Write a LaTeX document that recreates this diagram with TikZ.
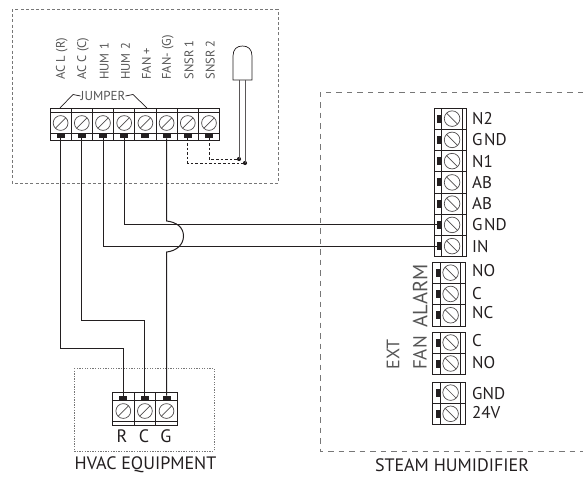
\documentclass[tikz,border=0pt]{standalone}
\usepackage{fontspec}
\usetikzlibrary{calc}
\setmainfont{PT Sans}
\definecolor{ink}{HTML}{231F20}
\definecolor{soft}{HTML}{555555}
\definecolor{boxgray}{HTML}{777777}
\tikzset{
  blockline/.style={draw=ink,line width=0.8pt},
  screw/.style={draw=ink!80,line width=0.7pt},
  tabmark/.style={fill=ink,draw=none,inner sep=0pt,minimum width=#1},
  wire/.style={draw=ink,line width=1pt},
  sensorwire/.style={draw=ink!75,line width=0.9pt},
  dashwire/.style={draw=ink,line width=0.8pt,dash pattern=on 2.6pt off 2pt},
  sensordot/.style={circle,fill=ink,inner sep=0pt,minimum size=4.2pt},
  pinlabel/.style={anchor=west,inner sep=0pt,font=\fontsize{17}{18}\selectfont,text=ink},
  uplabel/.style={anchor=west,rotate=90,inner sep=0pt,font=\fontsize{12.5}{13}\selectfont,text=soft},
  sidelabel/.style={rotate=90,inner sep=0pt,font=\fontsize{#1}{20}\selectfont,text=soft},
  caption/.style={inner sep=0pt,font=\fontsize{18}{19}\selectfont,text=ink},
}
\newcommand{\hblockdown}[5]{% x0, y0, cell, count, name
  \pgfmathsetmacro{\xend}{#1+#3*#4}
  \draw[blockline] (#1,#2) rectangle (\xend,#2+32);
  \draw[blockline] (#1,#2+3.7) -- (\xend,#2+3.7) (#1,#2+25.3) -- (\xend,#2+25.3);
  \foreach \i in {1,...,#4}{
    \pgfmathsetmacro{\cx}{#1+#3*(\i-0.5)}
    \draw[blockline] (#1+#3*\i-#3,#2) -- (#1+#3*\i-#3,#2+32);
    \draw[screw] (\cx,#2+14.5) circle (7.4);
    \draw[screw] (\cx-5.2,#2+19.7) -- (\cx+5.2,#2+9.3);
    \node[tabmark=8pt,minimum height=3.8pt] (#5\i) at (\cx,#2+27.8) {};
  }
}
\newcommand{\hblockup}[5]{% x0, y0, cell, count, name
  \pgfmathsetmacro{\xend}{#1+#3*#4}
  \draw[blockline] (#1,#2) rectangle (\xend,#2+33);
  \draw[blockline] (#1,#2+7.5) -- (\xend,#2+7.5) (#1,#2+28.5) -- (\xend,#2+28.5);
  \foreach \i in {1,...,#4}{
    \pgfmathsetmacro{\cx}{#1+#3*(\i-0.5)}
    \draw[blockline] (#1+#3*\i-#3,#2) -- (#1+#3*\i-#3,#2+33);
    \draw[screw] (\cx,#2+18.5) circle (7.4);
    \draw[screw] (\cx-5.2,#2+23.7) -- (\cx+5.2,#2+13.3);
    \node[tabmark=8pt,minimum height=3.8pt] (#5\i) at (\cx,#2+5.3) {};
  }
}
\newcommand{\vblock}[5]{% x0, y0, cell, count, name
  \pgfmathsetmacro{\yend}{#2+#3*#4}
  \draw[blockline] (#1,#2) rectangle (#1+32.5,\yend);
  \draw[blockline] (#1+7.5,#2) -- (#1+7.5,\yend) (#1+28,#2) -- (#1+28,\yend);
  \foreach \i in {1,...,#4}{
    \pgfmathsetmacro{\cy}{#2+#3*(\i-0.5)}
    \draw[blockline] (#1,#2+#3*\i-#3) -- (#1+32.5,#2+#3*\i-#3);
    \draw[screw] (#1+17.8,\cy) circle (7.8);
    \draw[screw] (#1+12.3,\cy-5.5) -- (#1+23.3,\cy+5.5);
    \node[tabmark=3.8pt,minimum height=8pt] (#5\i) at (#1+5,\cy) {};
  }
}
\begin{document}
\begin{tikzpicture}[x=1pt,y=-1pt]
\useasboundingbox (0,0) rectangle (583,477);
% enclosures
\draw[boxgray,line width=0.7pt,dash pattern=on 3pt off 2.2pt] (12,9) rectangle (278,183);
\draw[boxgray,line width=0.7pt,dash pattern=on 5.5pt off 5pt] (583,92) -- (320,92) -- (320,451) -- (583,451);
\draw[boxgray,line width=0.7pt,dash pattern=on 1.3pt off 1.3pt] (74,368) rectangle (214,451);
% blocks
\hblockdown{50}{108.5}{21.2}{8}{a}
\hblockup{112.5}{392.5}{21.6}{3}{c}
\vblock{434.3}{108}{21.25}{7}{r}
\vblock{432.8}{262}{21.3}{3}{p}
\vblock{432.8}{332}{21}{2}{q}
\vblock{432.8}{382}{21.2}{2}{s}
% top labels
\foreach \n/\t in {1/AC L (R),2/AC C (C),3/HUM 1,4/HUM 2,5/FAN +,6/FAN- (G),7/SNSR 1,8/SNSR 2}
  \node[uplabel] (u\n) at ($(a\n.center)+(1.2,-56.5)$) {\t};
% jumper
\node[inner sep=0pt,font=\fontsize{13}{14}\selectfont,text=soft] (jmp) at (103,96) {JUMPER};
\coordinate (jl) at (60,108);
\coordinate (jr) at (147,108);
\draw[ink,line width=0.7pt] (jl) -- (73,94.5) -- (jmp.west);
\draw[ink,line width=0.7pt] (jr) -- (133,94.5) -- (jmp.east);
% sensor
\coordinate (sensorL) at (239,80);
\coordinate (sensorR) at (245,80);
\draw[ink,line width=0.7pt] (233,80) -- (233,56) .. controls (233,49) and (237,46) .. (242.5,46) .. controls (248,46) and (252,49) .. (252,56) -- (252,80) -- cycle;
\node[sensordot] (d1) at (239,159) {};
\node[sensordot] (d2) at (245,163) {};
\draw[sensorwire] (sensorL) -- (d1.center);
\draw[sensorwire] (sensorR) -- (d2.center);
\draw[dashwire] (a7.south) |- (d2.center);
\draw[dashwire] (a8.south) |- (d1.center);
% wires
\coordinate (bendA) at (61,348);
\coordinate (bendB) at (82,320);
\coordinate (humpA) at (166.6,221);
\coordinate (humpB) at (166.6,252);
\draw[wire] (a1.south) -- (a1.south |- bendA) -| (c1.north);
\draw[wire] (a2.south) -- (a2.south |- bendB) -| (c2.north);
\draw[wire] (a3.south) |- (r7.west);
\draw[wire] (a4.south) |- (r6.west);
\draw[wire] (a6.south) -- (humpA) .. controls (176,222) and (183.5,227) .. (183.5,236) .. controls (183.5,245) and (176,251) .. (humpB) -- (c3.north);
% right labels
\foreach \n/\t in {1/N2,2/G\kern1.5pt ND,3/N1,4/AB,5/AB,6/G\kern1.5pt ND,7/IN}
  \node[pinlabel] (rl\n) at (472,{108+21.25*(\n-0.5)}) {\t};
\node[pinlabel] (pl1) at (472,270.5) {NO};
\node[pinlabel] (pl2) at (472,294) {C};
\node[pinlabel] (pl3) at (472,313) {NC};
\node[pinlabel] (ql1) at (472,341) {C};
\node[pinlabel] (ql2) at (472,363) {NO};
\node[pinlabel] (sl1) at (472,394) {GND};
\node[pinlabel] (sl2) at (472,413) {24V};
\node[sidelabel=20.5] (alarm) at (420,295.5) {ALARM};
\node[sidelabel=19] (fan) at (420,353) {FAN};
\node[sidelabel=18] (ext) at (393,354.5) {EXT};
% bottom labels
\node[caption] (lr) at (122,436) {R};
\node[caption] (lc) at (144,436) {C};
\node[caption] (lg) at (166,436) {G};
\node[caption] (hvac) at (145.5,465) {HVAC EQUIPMENT};
\node[caption] (steam) at (452,465) {STEAM HUMIDIFIER};
\end{tikzpicture}
\end{document}
